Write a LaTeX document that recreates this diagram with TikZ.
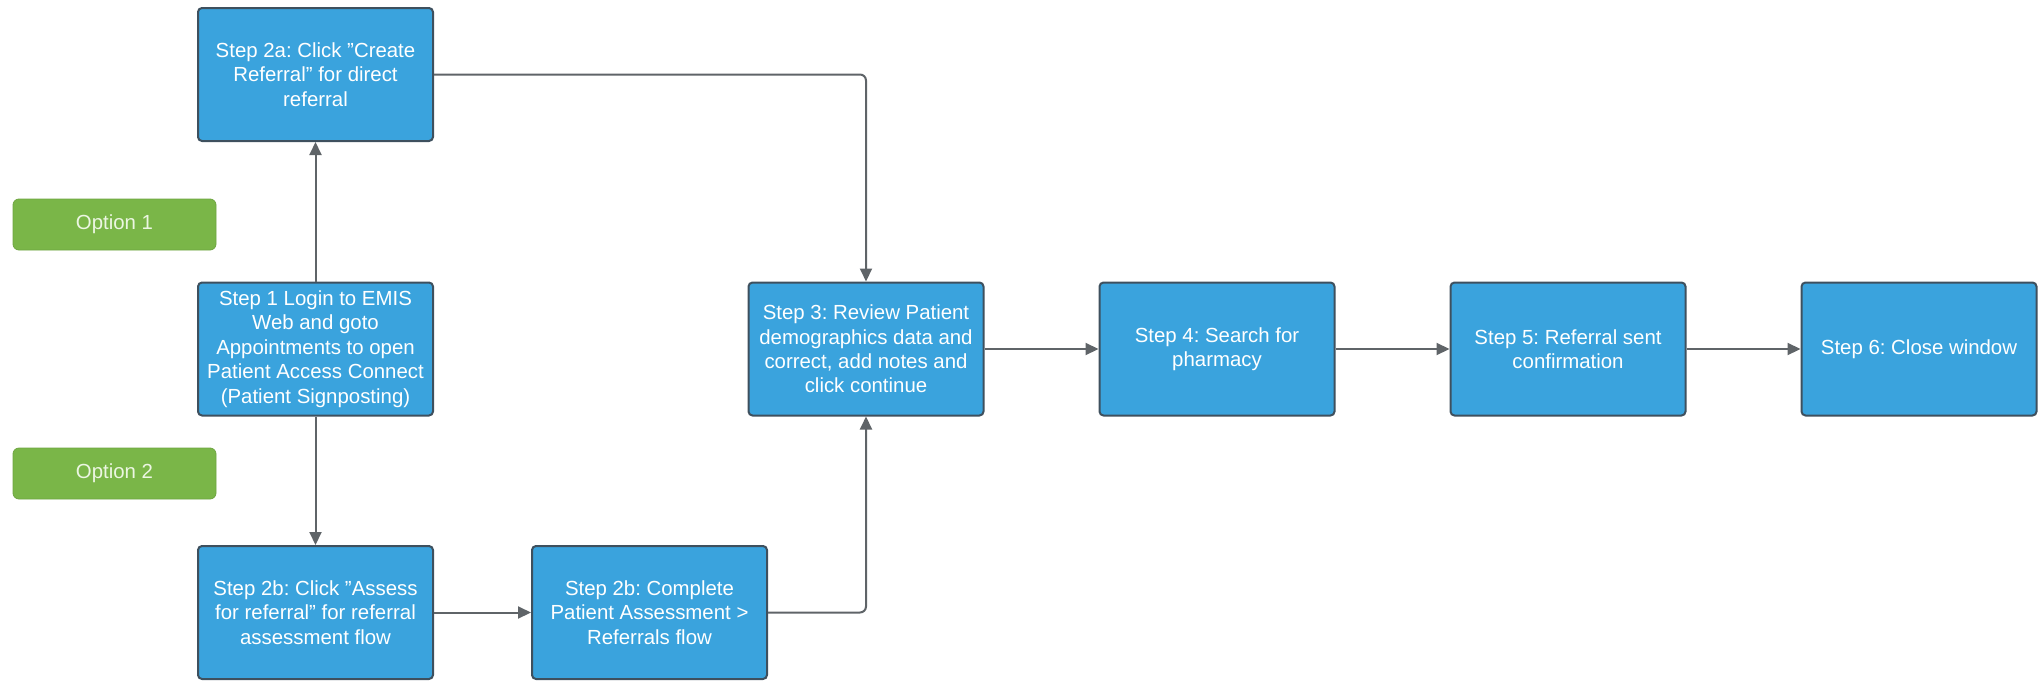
\documentclass[tikz,border=0pt]{standalone}
\usepackage{fontspec}
\setmainfont{Liberation Sans}
\usetikzlibrary{arrows.meta}
\frenchspacing
\definecolor{stepblue}{RGB}{58,163,221}
\definecolor{stepborder}{RGB}{62,80,94}
\definecolor{optgreen}{RGB}{122,182,72}
\definecolor{optborder}{RGB}{110,165,65}
\definecolor{linegray}{RGB}{95,100,104}
\newcommand{\dq}{\symbol{34}}
\begin{document}
\begin{tikzpicture}[x=0.5pt,y=-0.5pt,
  stepbox/.style={draw=stepborder, line width=1pt, fill=stepblue, rounded corners=2pt,
    minimum width=117.5pt, minimum height=66.5pt, inner sep=0pt, text=white,
    align=center, font=\fontsize{10.2}{12.2}\selectfont},
  optbox/.style={draw=optborder, line width=0.4pt, fill=optgreen, rounded corners=3pt,
    minimum width=101.5pt, minimum height=25.5pt, inner sep=0pt, text={rgb,255:red,236;green,246;blue,226},
    font=\fontsize{10.2}{12.2}\selectfont},
  conn/.style={draw=linegray, line width=1pt, rounded corners=3pt,
    -{Triangle[length=6.5pt,width=6pt]}}]
\useasboundingbox (0,0) rectangle (2038,680);
\node[stepbox] (s2a) at (315.5,74.5) {Step 2a: Click \dq Create\\Referral\dq{} for direct\\referral};
\node[optbox] (o1) at (114.5,224.5) {Option 1};
\node[stepbox] (s1) at (315.5,349) {Step 1 Login to EMIS\\Web and goto\\Appointments to open\\Patient Access Connect\\(Patient Signposting)};
\node[optbox] (o2) at (114.5,473.5) {Option 2};
\node[stepbox] (s2b) at (315.5,612.5) {Step 2b: Click \dq Assess\\for referral\dq{} for referral\\assessment flow};
\node[stepbox] (s2c) at (649.5,612.5) {Step 2b: Complete\\Patient Assessment >\\Referrals flow};
\node[stepbox] (s3) at (866,349) {Step 3: Review Patient\\demographics data and\\correct, add notes and\\click continue};
\node[stepbox] (s4) at (1217,349) {Step 4: Search for\\pharmacy};
\node[stepbox] (s5) at (1568,349) {Step 5: Referral sent\\confirmation};
\node[stepbox] (s6) at (1919,349) {Step 6: Close window};
\draw[conn] (s1.north) -- (s2a.south);
\draw[conn] (s1.south) -- (s2b.north);
\draw[conn] (s2a.east) -| (s3.north);
\draw[conn] (s2b.east) -- (s2c.west);
\draw[conn] (s2c.east) -| (s3.south);
\draw[conn] (s3.east) -- (s4.west);
\draw[conn] (s4.east) -- (s5.west);
\draw[conn] (s5.east) -- (s6.west);
\end{tikzpicture}
\end{document}
